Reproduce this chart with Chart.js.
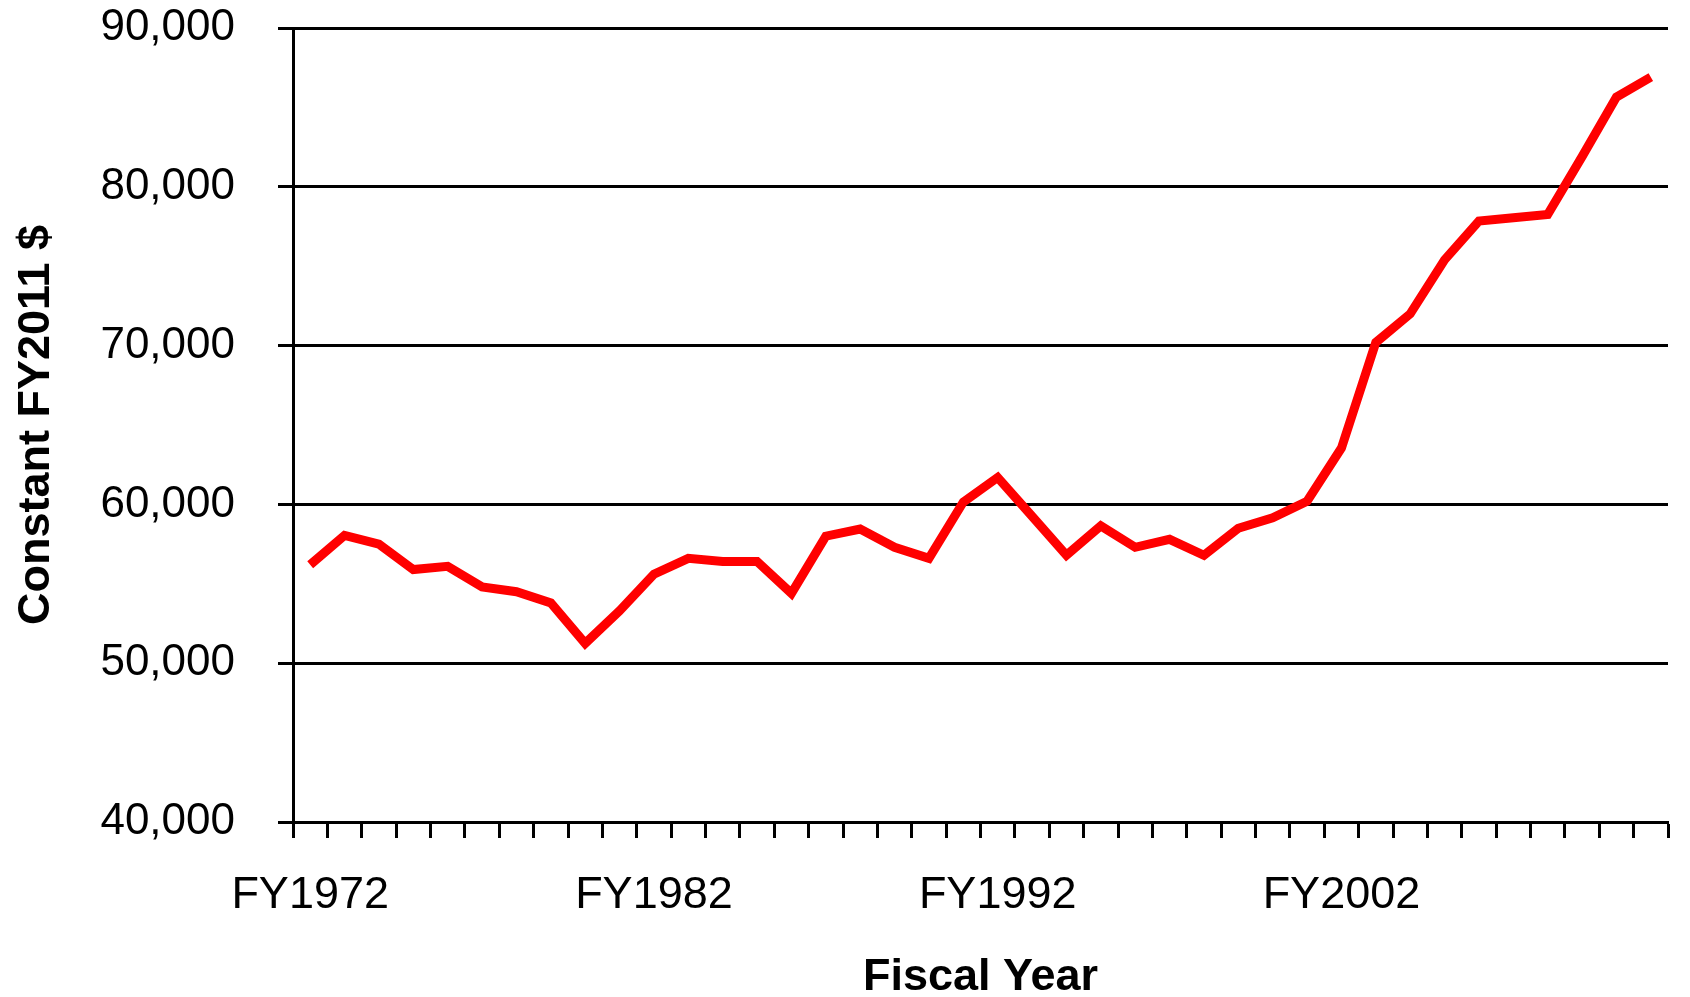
<!DOCTYPE html>
<html>
<head>
<meta charset="utf-8">
<script src="https://cdn.jsdelivr.net/npm/chart.js@4/dist/chart.umd.min.js"></script>
<style>
  html, body { margin: 0; padding: 0; background: #fff; }
  #wrap { width: 1690px; height: 997px; }
</style>
</head>
<body>
<div id="wrap"><canvas id="costChart" width="1690" height="997"></canvas></div>
<script>
// fiscal years on the x axis
const years = [
    'FY1972', 'FY1973', 'FY1974', 'FY1975', 'FY1976', 'FY1977', 'FY1978', 'FY1979', 'FY1980', 'FY1981',
    'FY1982', 'FY1983', 'FY1984', 'FY1985', 'FY1986', 'FY1987', 'FY1988', 'FY1989', 'FY1990', 'FY1991',
    'FY1992', 'FY1993', 'FY1994', 'FY1995', 'FY1996', 'FY1997', 'FY1998', 'FY1999', 'FY2000', 'FY2001',
    'FY2002', 'FY2003', 'FY2004', 'FY2005', 'FY2006', 'FY2007', 'FY2008', 'FY2009', 'FY2010', 'FY2011'
];

// constant FY2011 dollars
const costValues = [
    56200, 58050, 57500, 55900, 56100, 54800, 54500, 53800, 51250, 53300,
    55600, 56600, 56400, 56400, 54400, 58000, 58450, 57300, 56600, 60150,
    61700, 59250, 56800, 58650, 57300, 57800, 56800, 58500, 59150, 60200,
    63550, 70200, 72000, 75400, 77850, 78050, 78250, 81900, 85650, 86900
];

// labels actually printed under the axis
const shownYears = ['FY1972', 'FY1982', 'FY1992', 'FY2002'];

const yMin = 40000;
const yMax = 90000;
const yStep = 10000;

const fontFamily = 'Liberation Sans, Arial, sans-serif';

const ctx = document.getElementById('costChart').getContext('2d');
new Chart(ctx, {
    type: 'line',
    data: {
        labels: years,
        datasets: [{
            label: 'Constant FY2011 $',
            data: costValues,
            borderColor: '#ff0000',
            backgroundColor: '#ff0000',
            borderWidth: 9,
            pointRadius: 0,
            tension: 0,
            fill: false
        }]
    },
    options: {
        responsive: false,
        animation: false,
        layout: { padding: { top: 28, right: 22, left: 0, bottom: 0 } },
        plugins: {
            legend: { display: false },
            tooltip: { enabled: false }
        },
        scales: {
            x: {
                type: 'category',
                offset: true,
                grid: {
                    offset: true,
                    drawOnChartArea: false,
                    drawTicks: true,
                    tickLength: 16,
                    tickWidth: 3,
                    tickColor: '#000'
                },
                border: { display: true, color: '#000', width: 3 },
                ticks: {
                    autoSkip: false,
                    maxRotation: 0,
                    minRotation: 0,
                    padding: 31,
                    color: '#000',
                    font: { family: fontFamily, size: 45 },
                    callback: function (value, index) {
                        const lbl = this.getLabelForValue(value);
                        return shownYears.includes(lbl) ? lbl : '';
                    }
                },
                title: {
                    display: true,
                    text: 'Fiscal Year',
                    color: '#000',
                    font: { family: fontFamily, size: 45, weight: 'bold', lineHeight: 1 },
                    padding: { top: 0, bottom: -3 }
                },
                afterFit: function (scale) {
                    scale.height = 175;
                    scale.paddingLeft = 0;
                    scale.paddingRight = 0;
                }
            },
            y: {
                min: yMin,
                max: yMax,
                grid: {
                    color: '#000',
                    lineWidth: 3,
                    drawTicks: true,
                    tickLength: 15,
                    tickColor: '#000'
                },
                border: { display: true, color: '#000', width: 3 },
                ticks: {
                    stepSize: yStep,
                    padding: 43,
                    color: '#000',
                    font: { family: fontFamily, size: 44 },
                    callback: function (v) { return v.toLocaleString('en-US'); }
                },
                title: {
                    display: true,
                    text: 'Constant FY2011 $',
                    color: '#000',
                    font: { family: fontFamily, size: 45, weight: 'bold', lineHeight: 1 },
                    padding: { top: 14, bottom: 0 }
                },
                afterFit: function (scale) {
                    scale.width = 293;
                    scale.paddingTop = 0;
                    scale.paddingBottom = 0;
                }
            }
        }
    }
});
</script>
</body>
</html>
